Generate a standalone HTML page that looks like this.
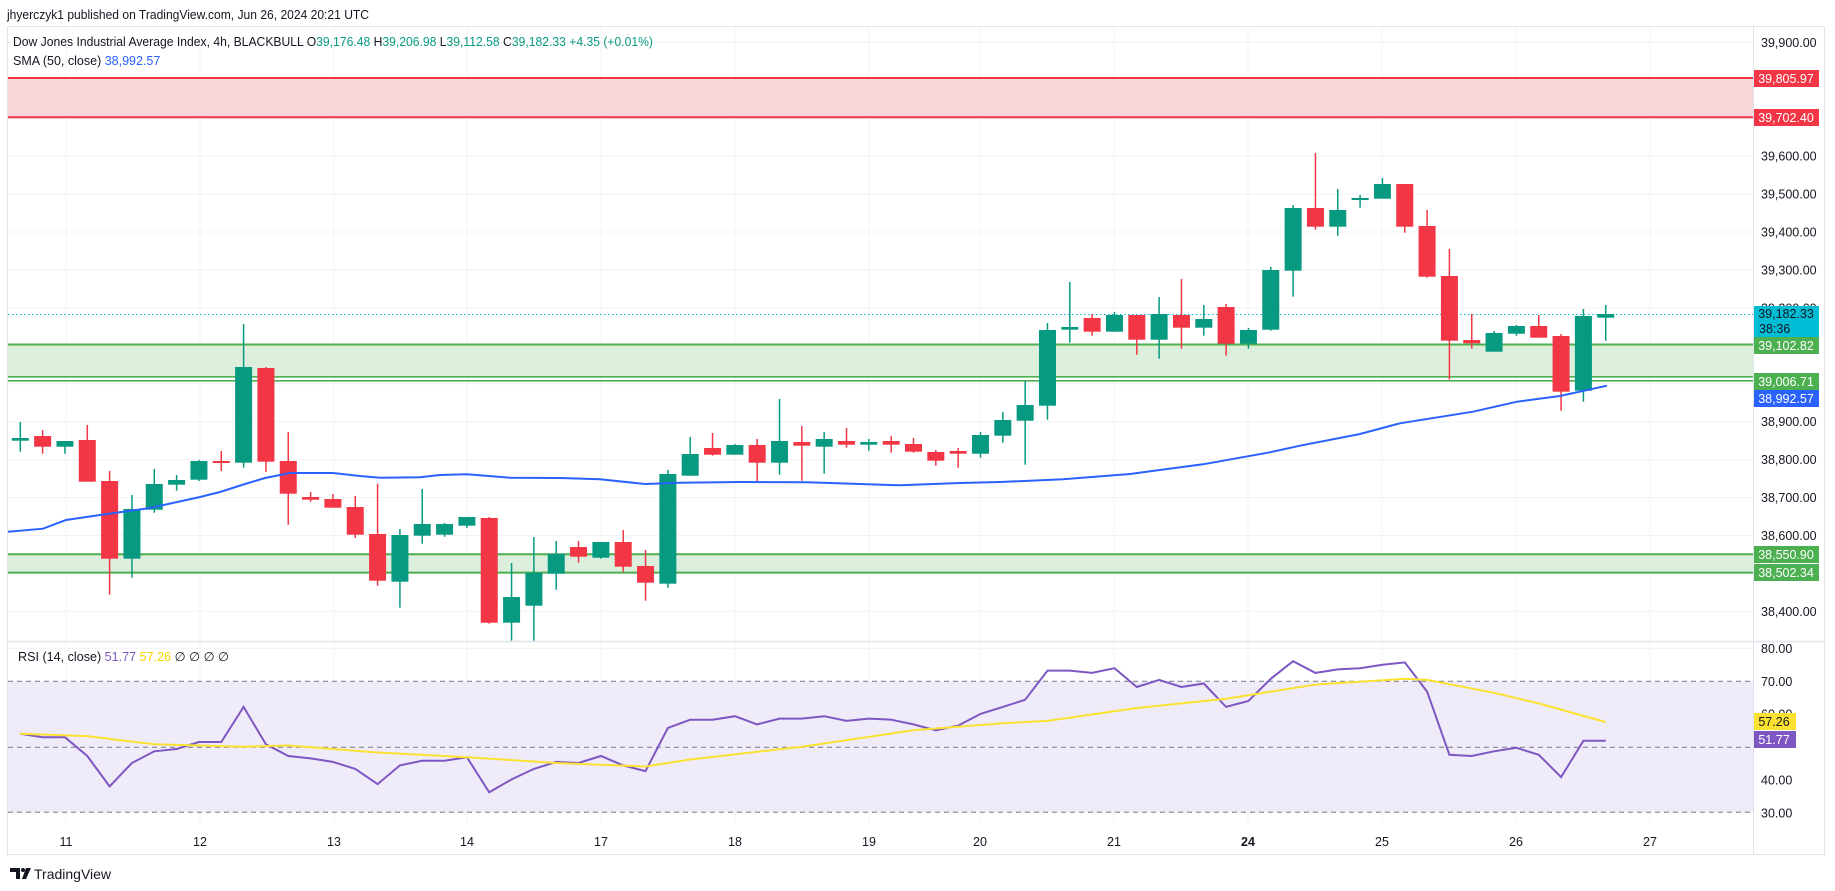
<!DOCTYPE html>
<html><head><meta charset="utf-8"><style>
html,body{margin:0;padding:0;background:#fff;}
svg{display:block;font-family:"Liberation Sans",sans-serif;}
</style></head><body>
<svg id="s" width="1835" height="891" viewBox="0 0 1835 891" xmlns="http://www.w3.org/2000/svg">
<rect width="1835" height="891" fill="#fff"/>
<text x="7" y="19" font-size="13" fill="#131722" textLength="362" lengthAdjust="spacingAndGlyphs">jhyerczyk1 published on TradingView.com, Jun 26, 2024 20:21 UTC</text>
<rect x="7.5" y="26.5" width="1817" height="828" fill="#fff" stroke="#e0e3eb"/>
<g id="grid" stroke="#f2f3f6" stroke-width="1"></g>
<rect x="8" y="78" width="1745" height="39.3" fill="#f9d6d9"/>
<line x1="8" x2="1753" y1="78" y2="78" stroke="#f23645" stroke-width="2"/>
<line x1="8" x2="1753" y1="117.3" y2="117.3" stroke="#f23645" stroke-width="2"/>
<rect x="8" y="344.5" width="1745" height="32.3" fill="#dcefdd"/>
<line x1="8" x2="1753" y1="344.5" y2="344.5" stroke="#4caf50" stroke-width="2"/>
<line x1="8" x2="1753" y1="376.8" y2="376.8" stroke="#4caf50" stroke-width="1.6"/>
<line x1="8" x2="1753" y1="380.8" y2="380.8" stroke="#4caf50" stroke-width="1.6"/>
<rect x="8" y="554.2" width="1745" height="18.4" fill="#dcefdd"/>
<line x1="8" x2="1753" y1="554.2" y2="554.2" stroke="#4caf50" stroke-width="2"/>
<line x1="8" x2="1753" y1="572.6" y2="572.6" stroke="#4caf50" stroke-width="2"/>
<line x1="8" x2="1753" y1="314.5" y2="314.5" stroke="#00bcd4" stroke-width="1" stroke-dasharray="1.5 2.5"/>
<g id="candles"></g>
<polyline fill="none" stroke="#2962ff" stroke-width="2" points="8,531.7 43,528.7 66,520 100,515 150,508 200,497 220,492 245,484 265,478 290,473 333,473 360,476 380,477.7 420,477.3 440,475 467,474.3 510,477.7 560,478 600,479.3 645,484 680,482.7 740,482 807,482.3 860,484 900,485.3 960,483 1000,482 1063,479.3 1130,474 1203,464.3 1270,452.3 1300,445.7 1360,434 1400,423.3 1473,411.7 1517,401.7 1560,396 1607,385.7"/>
<text x="13" y="46" font-size="12.5" fill="#131722" textLength="640" lengthAdjust="spacingAndGlyphs"><tspan>Dow Jones Industrial Average Index, 4h, BLACKBULL  O</tspan><tspan fill="#089981">39,176.48</tspan><tspan>  H</tspan><tspan fill="#089981">39,206.98</tspan><tspan>  L</tspan><tspan fill="#089981">39,112.58</tspan><tspan>  C</tspan><tspan fill="#089981">39,182.33  +4.35 (+0.01%)</tspan></text>
<text x="13" y="65" font-size="12.5" fill="#131722">SMA (50, close)  <tspan fill="#2962ff">38,992.57</tspan></text>
<line x1="8" x2="1824" y1="641.5" y2="641.5" stroke="#e0e3eb" stroke-width="1.5"/>
<rect x="8" y="681.3" width="1745" height="131" fill="#efebf8"/>
<g stroke="#787b86" stroke-width="1" stroke-dasharray="5 4">
<line x1="8" x2="1753" y1="681.3" y2="681.3"/><line x1="8" x2="1753" y1="747.3" y2="747.3"/><line x1="8" x2="1753" y1="812.3" y2="812.3"/></g>
<polyline id="rsi" fill="none" stroke="#7e57c2" stroke-width="2"/>
<polyline id="ma" fill="none" stroke="#fbe232" stroke-width="2"/>
<text x="18" y="661" font-size="12.5" fill="#131722" textLength="211" lengthAdjust="spacingAndGlyphs">RSI (14, close)  <tspan fill="#7e57c2">51.77</tspan>  <tspan fill="#f5d400">57.26</tspan>  ∅  ∅  ∅  ∅</text>
<g id="tlabels" font-size="12.5" fill="#131722" text-anchor="middle"></g>
<g id="axis" font-size="12.5" fill="#131722"></g>
<g font-size="12.5">
<rect x="1753" y="70" width="66" height="17" fill="#f23645"/><text x="1786" y="83" fill="#fff" text-anchor="middle">39,805.97</text>
<rect x="1753" y="109" width="66" height="17" fill="#f23645"/><text x="1786" y="122" fill="#fff" text-anchor="middle">39,702.40</text>
<rect x="1753" y="306" width="66" height="31" fill="#00bcd4"/><text x="1786" y="318" fill="#131722" text-anchor="middle">39,182.33</text><text x="1759" y="333" fill="#131722">38:36</text>
<rect x="1753" y="337" width="66" height="17" fill="#4caf50"/><text x="1786" y="350" fill="#fff" text-anchor="middle">39,102.82</text>
<rect x="1753" y="373" width="66" height="17" fill="#4caf50"/><text x="1786" y="386" fill="#fff" text-anchor="middle">39,006.71</text>
<rect x="1753" y="390" width="66" height="17" fill="#2962ff"/><text x="1786" y="403" fill="#fff" text-anchor="middle">38,992.57</text>
<rect x="1753" y="546" width="66" height="17" fill="#4caf50"/><text x="1786" y="559" fill="#fff" text-anchor="middle">38,550.90</text>
<rect x="1753" y="564" width="66" height="17" fill="#4caf50"/><text x="1786" y="577" fill="#fff" text-anchor="middle">38,502.34</text>
<rect x="1753" y="713" width="43" height="17" fill="#fbe232"/><text x="1774" y="726" fill="#131722" text-anchor="middle">57.26</text>
<rect x="1753" y="731" width="43" height="17" fill="#7e57c2"/><text x="1774" y="744" fill="#fff" text-anchor="middle">51.77</text>
</g>
<line x1="1753.5" x2="1753.5" y1="27" y2="854" stroke="#e0e3eb"/>
<g fill="#131722"><path d="M10 868h10v11h-4v-7h-6z"/><circle cx="23" cy="870" r="2"/><path d="M26 868h5l-5 11h-4z"/></g>
<text x="34" y="879" font-size="14" fill="#131722">TradingView</text>
</svg>
<script>
const NS="http://www.w3.org/2000/svg";
function el(t,a,p){const e=document.createElementNS(NS,t);for(const k in a)e.setAttribute(k,a[k]);if(p)p.appendChild(e);return e;}
const X=i=>20.3+22.33*i;
const C=[
['g',438,440.7,422,451.7],['r',436,446.7,430,453.7],['g',441,446.7,441,453.7],['r',440,481.7,425,481.7],['r',481,558.7,471,594.7],['g',509,558.7,495,577.7],['g',484,509.7,469,512.7],['g',480,484.7,475,490.7],['g',461,479.7,460,481],['r',461,462.5,451,471],
['g',367,462.7,324,467.7],['r',368,461.7,367,472],['r',461,493.7,432,524.7],['r',497,499.7,492,501.7],['r',499,507.7,494,507.7],['r',507,534.7,496,538],['r',534,580.7,483.7,585.7],['g',535,581.7,529,607.7],['g',524,535.7,489,543.7],['g',524,534.7,523,536.7],
['g',517,525.7,517,528],['r',518,622.7,517,623.7],['g',597,622.7,563,640.7],['g',572.7,605.7,537,640.7],['g',554,573.7,541,589.7],['r',547,556.7,541,562.7],['g',542,557.7,542,558.7],['r',542,566.7,530,571.7],['r',566,582.7,550,600.7],['g',474,583.7,470,587.7],
['g',454,475.7,437,475.7],['r',448,454.7,433,455.7],['g',445,454.7,444,454.7],['r',445,462.7,439,482.3],['g',441,462.7,399,474.7],['r',442,445.7,426,480.7],['g',439,446.7,432,473.7],['r',441,444.7,428,447.7],['g',442,444.7,439,450.7],['r',441,444.7,436,452.7],
['r',444,451.7,438,452.7],['r',452,460.7,450,465.7],['r',451,453.7,448,467.7],['g',435,453.7,432,457.7],['g',420,435.7,412,442.7],['g',405,420.7,381,464.7],['g',330,405.7,323,419.7],['g',327,329.7,282,342.7],['r',318,331.7,314,335.7],['g',315,331.7,312,331.7],
['r',315,339.7,315,354.7],['g',314,339.7,297,358.7],['r',315,327.7,279,348.7],['g',319,327.7,305,335.7],['r',307,343.7,304,355.7],['g',330,343.7,328,348.7],['g',270,329.7,267,330.7],['g',208,270.7,205,296.7],['r',208,226.7,153,229.7],['g',210,226.7,189,235.7],
['g',198,199.7,195,207.7],['g',184,198.7,178,198.7],['r',184,226.7,184,232.7],['r',226,276.7,210,277.7],['r',276,340.7,249,379.7],['r',340,343.3,314,348.7],['g',333,351.7,331,351.7],['g',326,333.7,325,335.7],['r',326,337.7,315,337.7],['r',336,391.7,334,410.7],
['g',316,390.7,309,401.7],['g',314,317.7,305,340.7]];
const cg=document.getElementById('candles');
C.forEach((c,i)=>{const x=X(i),col=c[0]=='g'?'#089981':'#f23645';
el('rect',{x:x-0.75,y:c[3],width:1.5,height:c[4]-c[3],fill:col},cg);
el('rect',{x:x-8.5,y:c[1],width:17,height:Math.max(2,c[2]-c[1]),fill:col},cg);});
const g=document.getElementById('grid');
const gx=[66,200,334,467,601,735,869,980,1114,1248,1382,1516,1650];
gx.forEach(x=>{el('line',{x1:x,x2:x,y1:27,y2:823},g);});
const py=p=>421.7+(38900-p)*0.3793;
for(let p=38400;p<=39900;p+=100)el('line',{x1:8,x2:1753,y1:py(p),y2:py(p)},g);
[80,60,40].forEach(r=>{const y=681.3+(70-r)*3.29;el('line',{x1:8,x2:1753,y1:y,y2:y},g);});
const tl=document.getElementById('tlabels');
['11','12','13','14','17','18','19','20','21','24','25','26','27'].forEach((t,i)=>{const e=el('text',{x:gx[i],y:846},tl);e.textContent=t;if(t=='24')e.setAttribute('font-weight','bold');});
const ax=document.getElementById('axis');
[39900,39600,39500,39400,39300,39200,38900,38800,38700,38600,38400].forEach(p=>{const e=el('text',{x:1761,y:py(p)+4.5},ax);e.textContent=p.toLocaleString('en-US')+'.00';});
[80,70,60,40,30].forEach(r=>{const e=el('text',{x:1761,y:681.3+(70-r)*3.29+4.5},ax);e.textContent=r+'.00';});
const R=[627,630,630,646,672,652,642,640,634,634,604,636,646,648,651,657,670,654,650,650,647,677,666,657,651,652,646,654,659,622,615,615,612,619,614,614,612,616,614,615,619,624,620,610,604,598,573,573,575,571,587,581,587,584,604,599,580,565,575,572,571,568,566,591,645,646,642,639,645,664,633,633];
document.getElementById('rsi').setAttribute('points',R.map((y,i)=>X(i).toFixed(1)+','+(y*1.1703).toFixed(1)).join(' '));
const M=[[0,627],[3,629],[6,636],[10,638],[12,637],[16,643],[20,647],[24,652],[28,655],[30,649],[35,638],[40,624],[44,618],[46,616],[50,605],[54,597],[58,585],[62,580],[63,581],[66,592],[68,601],[71,617]];
document.getElementById('ma').setAttribute('points',M.map(m=>X(m[0]).toFixed(1)+','+(m[1]*1.1703).toFixed(1)).join(' '));
</script>
</body></html>
